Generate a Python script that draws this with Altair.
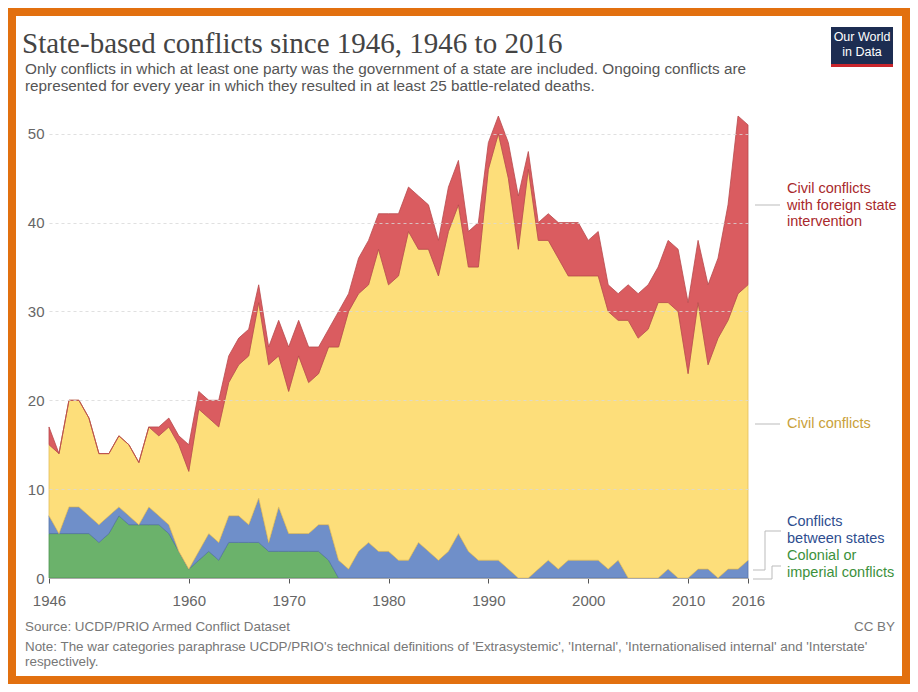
import altair as alt
import pandas as pd

years = list(range(1946, 2017))

colonial = [5, 5, 5, 5, 5, 4, 5, 7, 6, 6,
            6, 6, 5, 3, 1, 2, 3, 2, 4, 4,
            4, 4, 3, 3, 3, 3, 3, 3, 2, 0,
            0, 0, 0, 0, 0, 0, 0, 0, 0, 0,
            0, 0, 0, 0, 0, 0, 0, 0, 0, 0,
            0, 0, 0, 0, 0, 0, 0, 0, 0, 0,
            0, 0, 0, 0, 0, 0, 0, 0, 0, 0,
            0]
interstate = [2, 0, 3, 3, 2, 2, 2, 1, 1, 0,
              2, 1, 1, 0, 0, 1, 2, 2, 3, 3,
              2, 5, 1, 5, 2, 2, 2, 3, 4, 2,
              1, 3, 4, 3, 3, 2, 2, 4, 3, 2,
              3, 5, 3, 2, 2, 2, 1, 0, 0, 1,
              2, 1, 2, 2, 2, 2, 1, 2, 0, 0,
              0, 0, 1, 0, 0, 1, 1, 0, 1, 1,
              2]
civil = [8, 9, 12, 12, 11, 8, 7, 8, 8, 7,
         9, 9, 11, 12, 11, 16, 13, 13, 15, 17,
         19, 22, 20, 17, 16, 20, 17, 17, 20, 24,
         29, 29, 29, 34, 30, 32, 37, 33, 34, 32,
         36, 37, 32, 33, 44, 48, 44, 37, 46, 37,
         36, 35, 32, 32, 32, 32, 29, 27, 29, 27,
         28, 31, 30, 30, 23, 30, 23, 27, 28, 31,
         31]
internationalised = [2, 0, 0, 0, 0, 0, 0, 0, 0, 0,
                     0, 1, 1, 1, 3, 2, 2, 3, 3, 3,
                     3, 2, 2, 4, 5, 4, 4, 3, 2, 4,
                     2, 4, 5, 4, 8, 7, 5, 6, 5, 4,
                     5, 5, 4, 5, 3, 2, 4, 6, 2, 2,
                     3, 4, 6, 6, 4, 5, 3, 3, 4, 5,
                     5, 4, 7, 7, 8, 7, 9, 9, 13, 20,
                     18]

categories = ["Colonial or imperial conflicts", "Conflicts between states",
              "Civil conflicts", "Civil conflicts with foreign state intervention"]
series = [colonial, interstate, civil, internationalised]
fills = ["#6BB26B", "#6F8FC9", "#FDDE7A", "#DA5C60"]
strokes = ["#4E9650", "#5573A8", "#E3BE5C", "#B84A4D"]

x_ticks = [1946, 1960, 1970, 1980, 1990, 2000, 2010, 2016]
y_ticks = [0, 10, 20, 30, 40, 50]

title_text = "State-based conflicts since 1946, 1946 to 2016"
subtitle_lines = [
    "Only conflicts in which at least one party was the government of a state are included. Ongoing conflicts are",
    "represented for every year in which they resulted in at least 25 battle-related deaths.",
]
source_text = "Source: UCDP/PRIO Armed Conflict Dataset"
note_lines = [
    "Note: The war categories paraphrase UCDP/PRIO's technical definitions of 'Extrasystemic', 'Internal', 'Internationalised internal' and 'Interstate'",
    "respectively.",
]

rows = []
for rank, (cat, vals) in enumerate(zip(categories, series)):
    for yr, v in zip(years, vals):
        rows.append({"year": yr, "value": v, "category": cat, "rank": rank})
df = pd.DataFrame(rows)

W, H = 699, 462
SANS = "Liberation Sans"
one = pd.DataFrame({"k": [0]})


def txt(s, x, y, size, color, align="left", font=SANS, weight="normal"):
    return alt.Chart(one).mark_text(
        text=s, align=align, baseline="middle", fontSize=size, color=color,
        font=font, fontWeight=weight
    ).encode(x=alt.value(x), y=alt.value(y))


def seg(x, x2, y, y2, color="#BBBBBB", width=1):
    return alt.Chart(one).mark_rule(color=color, strokeWidth=width).encode(
        x=alt.value(x), x2=alt.value(x2), y=alt.value(y), y2=alt.value(y2))


frame = alt.Chart(one).mark_rect(fillOpacity=0, fill="white", stroke="#E2700F", strokeWidth=8).encode(
    x=alt.value(-37), x2=alt.value(857), y=alt.value(-104), y2=alt.value(564))

areas = alt.Chart(df).mark_area(strokeWidth=0.8, opacity=1).encode(
    x=alt.X("year:Q",
            scale=alt.Scale(domain=[1946, 2016], nice=False, zero=False),
            axis=alt.Axis(values=x_ticks, format="d", title=None, grid=False,
                          labelFontSize=15, labelColor="#666666", labelFont=SANS,
                          tickColor="#555555", tickSize=5, domainColor="#AAAAAA",
                          labelPadding=10, labelFlush=False, zindex=1)),
    y=alt.Y("value:Q", stack="zero",
            scale=alt.Scale(domain=[0, 52], nice=False),
            axis=alt.Axis(values=y_ticks, title=None, grid=True, gridDash=[3, 3],
                          gridColor="#D8D8D8", gridOpacity=0.8, domain=False, ticks=False,
                          labelPadding=5, labelFontSize=15, labelColor="#666666",
                          labelFont=SANS, zindex=1)),
    color=alt.Color("category:N", scale=alt.Scale(domain=categories, range=fills), legend=None),
    stroke=alt.Stroke("category:N", scale=alt.Scale(domain=categories, range=strokes), legend=None),
    order=alt.Order("rank:Q"),
)

layers = [frame, areas]

# title & subtitle
layers.append(txt(title_text, -27, -72, 29, "#444444", font="Liberation Serif"))
layers.append(txt(subtitle_lines[0], -24, -47, 15.3, "#555555"))
layers.append(txt(subtitle_lines[1], -24, -30, 15.3, "#555555"))

# logo
layers.append(alt.Chart(one).mark_rect(fill="#1D2D52").encode(
    x=alt.value(782), x2=alt.value(844), y=alt.value(-89), y2=alt.value(-49)))
layers.append(alt.Chart(one).mark_rect(fill="#C9252C").encode(
    x=alt.value(782), x2=alt.value(844), y=alt.value(-52), y2=alt.value(-49)))
layers.append(txt("Our World", 813, -79, 12.5, "white", align="center"))
layers.append(txt("in Data", 813, -64, 12.5, "white", align="center"))

# right-side labels
red_c, yel_c, blu_c, grn_c = "#A8292C", "#C9A13A", "#2E4E8F", "#3C913C"
layers.append(seg(706, 731, 89, 89))
for i, s in enumerate(["Civil conflicts", "with foreign state", "intervention"]):
    layers.append(txt(s, 738, 73 + 16.5 * i, 14.5, red_c))
layers.append(seg(706, 731, 308, 308))
layers.append(txt("Civil conflicts", 738, 308, 14.5, yel_c))

layers.append(seg(704, 716, 454, 454))
layers.append(seg(716, 716, 415, 454))
layers.append(seg(716, 732, 415, 415))
layers.append(txt("Conflicts", 738, 406, 14.5, blu_c))
layers.append(txt("between states", 738, 423, 14.5, blu_c))

layers.append(seg(704, 723, 463, 463))
layers.append(seg(723, 723, 450, 463))
layers.append(seg(723, 732, 450, 450))
layers.append(txt("Colonial or", 738, 440, 14.5, grn_c))
layers.append(txt("imperial conflicts", 738, 457, 14.5, grn_c))

# footer
layers.append(txt(source_text, -24, 511, 13.4, "#777777"))
layers.append(txt("CC BY", 846, 511, 13.4, "#777777", align="right"))
layers.append(txt(note_lines[0], -24, 531, 13.4, "#777777"))
layers.append(txt(note_lines[1], -24, 546, 13.4, "#777777"))

chart = alt.layer(*layers).properties(
    width=W, height=H, padding=0,
    autosize=alt.AutoSizeParams(type="pad"),
).configure(background="white").configure_view(stroke=None)

chart.save("out.html", embed_options={"renderer": "svg", "actions": False})
